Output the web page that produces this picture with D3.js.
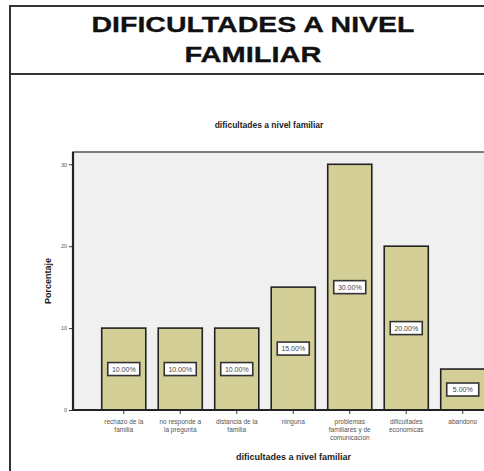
<!DOCTYPE html>
<html>
<head>
<meta charset="utf-8">
<script src="https://cdn.jsdelivr.net/npm/d3@7"></script>
<style>
html,body{margin:0;padding:0;background:#fff;}
svg{display:block;font-family:"Liberation Sans",Arial,sans-serif;}
</style>
</head>
<body>
<svg id="chart" width="484" height="471"></svg>
<script>
const categories = [
  ["rechazo de la", "familia"],
  ["no responde a", "la pregunta"],
  ["distancia de la", "familia"],
  ["ninguna"],
  ["problemas", "familiares y de", "comunicacion"],
  ["dificultades", "economicas"],
  ["abandono"]
];
const values = [10, 10, 10, 15, 30, 20, 5];
const valueLabels = ["10.00%", "10.00%", "10.00%", "15.00%", "30.00%", "20.00%", "5.00%"];
const yTicks = [0, 10, 20, 30];
const titleLines = ["DIFICULTADES A NIVEL", "FAMILIAR"];
const chartTitle = "dificultades a nivel familiar";
const xTitle = "dificultades a nivel familiar";
const yTitle = "Porcentaje";

const svg = d3.select("#chart");
const keys = categories.map((c, i) => "c" + i);

// outer frame and title block
svg.append("rect").attr("x", 10).attr("y", 6).attr("width", 520).attr("height", 500)
  .attr("fill", "none").attr("stroke", "#333").attr("stroke-width", 2);
svg.append("line").attr("x1", 10).attr("x2", 530).attr("y1", 74).attr("y2", 74)
  .attr("stroke", "#333").attr("stroke-width", 2);
const titleWidths = [323, 137];
svg.selectAll("text.title").data(titleLines).join("text")
  .attr("class", "title")
  .attr("x", 253).attr("y", (d, i) => 32 + i * 30)
  .attr("text-anchor", "middle")
  .attr("font-size", 22).attr("font-weight", "bold").attr("fill", "#111")
  .attr("stroke", "#111").attr("stroke-width", 0.3)
  .attr("textLength", (d, i) => titleWidths[i]).attr("lengthAdjust", "spacingAndGlyphs")
  .text(d => d);

// plot area
const pLeft = 73, pRight = 514, pTop = 152, pBottom = 410;
const x = d3.scaleBand().domain(keys).range([95.5, 491]).paddingInner(0.22).paddingOuter(0.11);
const y = d3.scaleLinear().domain([0, 31.5]).range([pBottom, pTop]);

svg.append("text").attr("x", 269).attr("y", 128).attr("text-anchor", "middle")
  .attr("font-size", 8.5).attr("font-weight", "bold").attr("fill", "#222").text(chartTitle);

svg.append("rect").attr("x", pLeft).attr("y", pTop).attr("width", pRight - pLeft).attr("height", pBottom - pTop)
  .attr("fill", "#f0f0f0").attr("stroke", "#555").attr("stroke-width", 1.5);

// bars
svg.selectAll("rect.bar").data(values).join("rect")
  .attr("class", "bar")
  .attr("x", (d, i) => x(keys[i]))
  .attr("y", d => y(d))
  .attr("width", x.bandwidth())
  .attr("height", d => y(0) - y(d))
  .attr("fill", "#d3cf97").attr("stroke", "#222").attr("stroke-width", 1.6);

// value label boxes
const lab = svg.selectAll("g.lab").data(values).join("g").attr("class", "lab")
  .attr("transform", (d, i) => `translate(${x(keys[i]) + x.bandwidth() / 2},${y(d / 2)})`);
lab.append("rect").attr("x", -16).attr("y", -6.5).attr("width", 32).attr("height", 13)
  .attr("fill", "#fff").attr("stroke", "#333").attr("stroke-width", 1.6);
lab.append("text").attr("text-anchor", "middle").attr("dy", "0.35em")
  .attr("font-size", 7).attr("fill", "#444").text((d, i) => valueLabels[i]);

// axes lines
svg.append("line").attr("x1", pLeft).attr("x2", pLeft).attr("y1", pTop).attr("y2", pBottom)
  .attr("stroke", "#222").attr("stroke-width", 2.2);
svg.append("line").attr("x1", pLeft).attr("x2", pRight).attr("y1", pBottom).attr("y2", pBottom)
  .attr("stroke", "#222").attr("stroke-width", 2.2);

// y axis
const yAxis = d3.axisLeft(y).tickValues(yTicks).tickSize(4).tickPadding(2).tickFormat(d3.format("d"));
const ya = svg.append("g").attr("transform", `translate(${pLeft},0)`).call(yAxis);
ya.select(".domain").remove();
ya.selectAll("line").attr("stroke", "#333");
ya.selectAll("text").attr("font-size", 5.5).attr("fill", "#555").attr("font-family", "Liberation Sans, Arial");

// x axis
const xAxis = d3.axisBottom(x).tickSize(4).tickPadding(3).tickFormat("");
const xa = svg.append("g").attr("transform", `translate(0,${pBottom})`).call(xAxis);
xa.select(".domain").remove();
xa.selectAll("line").attr("stroke", "#333");
keys.forEach((k, i) => {
  const t = svg.append("text").attr("text-anchor", "middle")
    .attr("font-size", 6.5).attr("fill", "#555");
  categories[i].forEach((line, j) => {
    t.append("tspan").attr("x", x(k) + x.bandwidth() / 2).attr("y", 424 + j * 8).text(line);
  });
});

// axis titles
svg.append("text").attr("x", (pLeft + pRight) / 2).attr("y", 460).attr("text-anchor", "middle")
  .attr("font-size", 9).attr("font-weight", "bold").attr("fill", "#222").text(xTitle);
svg.append("text").attr("transform", `translate(51,281) rotate(-90)`).attr("text-anchor", "middle")
  .attr("font-size", 9).attr("font-weight", "bold").attr("fill", "#222").text(yTitle);
</script>
</body>
</html>
